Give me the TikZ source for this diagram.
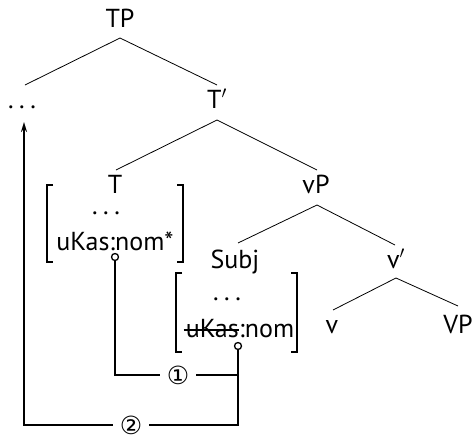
\documentclass[tikz,border=0pt]{standalone}
\usepackage{fontspec}
\setmainfont{PT Sans}
\newfontfamily\symfont{DejaVu Sans}
\usetikzlibrary{arrows.meta}
\newcommand{\mydots}{.\hspace{5.5pt}.\hspace{5.5pt}.}
\begin{document}
\begin{tikzpicture}[x=1pt,y=-1pt,
  lab/.style={inner sep=0pt, anchor=base, font=\fontsize{26}{30}\selectfont},
  edge/.style={line width=0.8pt},
  conn/.style={line width=1.6pt},
  brk/.style={line width=1.1pt},
  strike/.style={line width=1.1pt},
  hole/.style={circle, draw, line width=1.3pt, fill=white, inner sep=0pt, minimum size=7pt},
  num/.style={inner xsep=7pt, inner ysep=0pt, font=\fontsize{25}{28}\selectfont\symfont}]
\useasboundingbox (0,0) rectangle (474,434);
% tree labels
\node[lab] (TP) at (120,27) {TP};
\node[lab] (dots) at (22,108) {\mydots};
\node[lab] (Tbar) at (217,108) {T$'$};
\node[lab] (T) at (115,193) {T};
\node[lab] (dotsA) at (106,214) {\mydots};
\node[lab] (featA) at (115,250) {uKas:nom*};
\node[lab] (vP) at (316,193) {vP};
\node[lab] (Subj) at (235,268) {Subj};
\node[lab] (vbar) at (396,268) {v$'$};
\node[lab] (v) at (332,333) {v};
\node[lab] (VP) at (458,333) {VP};
\node[lab] (dotsB) at (227,300) {\mydots};
\node[lab, anchor=base east] (fB1) at (239,337) {uKas};
\node[lab, anchor=base west] (fB2) at (fB1.base east) {:nom};
\draw[strike] ([shift={(-2,-7)}]fB1.base west) -- ([shift={(0,-7)}]fB1.base east);
% tree edges
\draw[edge] ([shift={(0,11)}]TP.base) -- ([shift={(3,-23)}]dots.base);
\draw[edge] ([shift={(0,11)}]TP.base) -- ([shift={(0,-23)}]Tbar.base);
\draw[edge] ([shift={(0,12)}]Tbar.base) -- ([shift={(1,-23)}]T.base);
\draw[edge] ([shift={(0,12)}]Tbar.base) -- ([shift={(1,-23)}]vP.base);
\draw[edge] ([shift={(1,12)}]vP.base) -- ([shift={(3,-25)}]Subj.base);
\draw[edge] ([shift={(1,12)}]vP.base) -- ([shift={(-1,-23)}]vbar.base);
\draw[edge] ([shift={(0,10)}]vbar.base) -- ([shift={(1,-23)}]v.base);
\draw[edge] ([shift={(0,10)}]vbar.base) -- ([shift={(0,-27)}]VP.base);
% brackets
\draw[brk] (53,185) -- (47,185) -- (47,262) -- (53,262);
\draw[brk] (177,185) -- (183,185) -- (183,262) -- (177,262);
\draw[brk] (182,273) -- (176,273) -- (176,352) -- (182,352);
\draw[brk] (291,273) -- (297,273) -- (297,352) -- (291,352);
% connectors
\node[hole] (c1) at (115,257) {};
\node[hole] (c2) at (238,346) {};
\node[num] (n1) at (178,375) {①};
\node[num] (n2) at (131,425) {②};
\coordinate (j1) at (238,375);
\coordinate (j2) at (238,425);
\coordinate (tip) at (24,122);
\draw[conn] (c1.south) |- (n1.west);
\draw[conn] (n1.east) -- (j1);
\draw[conn] (c2.south) -- (j2) -- (n2.east);
\draw[conn,-{Stealth[length=10pt,width=6pt]}] (n2.west) -| (tip);
\end{tikzpicture}
\end{document}
